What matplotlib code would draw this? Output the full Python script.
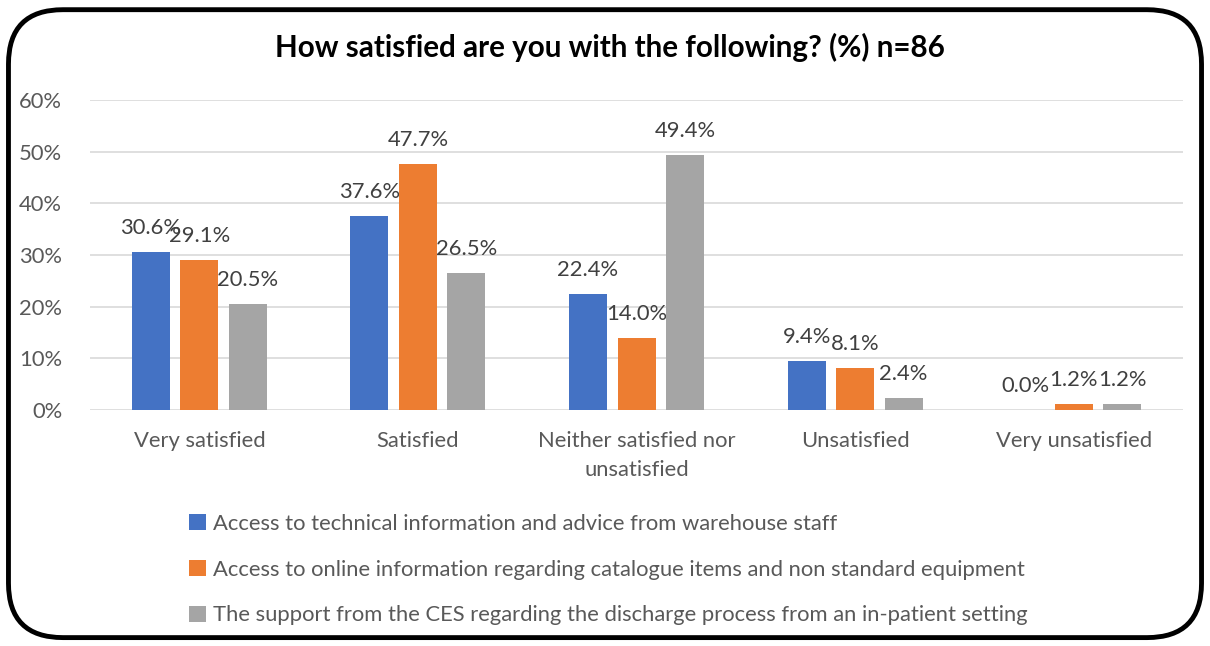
import matplotlib.pyplot as plt
import numpy as np
from matplotlib.patches import FancyBboxPatch

plt.rcParams['font.family'] = ['Lato', 'DejaVu Sans']

categories = ['Very satisfied', 'Satisfied', 'Neither satisfied nor\nunsatisfied',
              'Unsatisfied', 'Very unsatisfied']
series_names = ['Access to technical information and advice from warehouse staff',
                'Access to online information regarding catalogue items and non standard equipment',
                'The support from the CES regarding the discharge process from an in-patient setting']
technical_advice = [30.6, 37.6, 22.4, 9.4, 0.0]
online_info = [29.1, 47.7, 14.0, 8.1, 1.2]
discharge_support = [20.5, 26.5, 49.4, 2.4, 1.2]
colors = ['#4472C4', '#ED7D31', '#A5A5A5']
yticks = [0, 10, 20, 30, 40, 50, 60]

fs = 15.8

fig = plt.figure(figsize=(12.1, 6.46), dpi=100)
ax = fig.add_axes([0.0744, 0.3653, 0.9033, 0.4799])

x = np.arange(len(categories))
width = 0.174
step = 0.222
all_series = [technical_advice, online_info, discharge_support]
for i, (vals, col, name) in enumerate(zip(all_series, colors, series_names)):
    pos = x + (i - 1) * step
    ax.bar(pos, vals, width, color=col, label=name, zorder=3)
    for xp, v in zip(pos, vals):
        ax.text(xp, v + 2.7, f'{v:.1f}%', ha='center', va='bottom',
                fontsize=fs, color='#404040')

ax.set_xlim(-0.5, len(categories) - 0.5)
ax.set_ylim(0, 60)
ax.set_yticks(yticks)
ax.set_yticklabels([f'{t}%' for t in yticks])
ax.set_xticks(x)
ax.set_xticklabels(categories, linespacing=1.6)
ax.tick_params(axis='both', length=0, labelsize=fs, labelcolor='#595959')
ax.tick_params(axis='y', pad=20)
ax.tick_params(axis='x', pad=15)
ax.grid(axis='y', color='#D9D9D9', linewidth=1.2, zorder=0)
for s in ax.spines.values():
    s.set_visible(False)

fig.text(0.504, 0.927, 'How satisfied are you with the following? (%) n=86',
         ha='center', va='center', fontsize=21.3, fontweight='bold', color='black')

leg = fig.legend(loc='upper left', bbox_to_anchor=(0.149, 0.218), frameon=False,
                 fontsize=fs, handlelength=0.75, handleheight=0.75, handletextpad=0.35,
                 labelspacing=1.17, borderaxespad=0)
for t in leg.get_texts():
    t.set_color('#595959')

border = FancyBboxPatch((0.007, 0.013), 0.986, 0.972,
                        boxstyle='round,pad=0,rounding_size=0.045',
                        transform=fig.transFigure, fill=False,
                        edgecolor='black', linewidth=3.5, mutation_aspect=1.87)
fig.patches.append(border)

fig.savefig('out.png', dpi=100)
